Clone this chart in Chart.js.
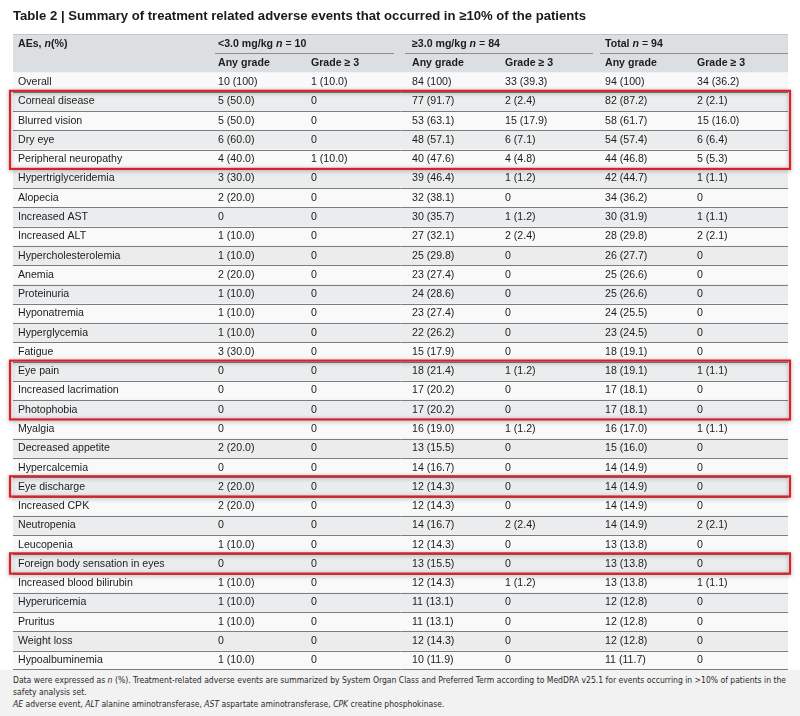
<!DOCTYPE html>
<html lang="en">
<head>
<meta charset="UTF-8">
<title>Table 2 - Treatment related adverse events</title>
<script src="https://cdn.jsdelivr.net/npm/chart.js"></script>
<style>
    body { margin: 0; background: #fff; }
    .page { position: relative; width: 800px; height: 716px; overflow: hidden; }
    .chart-box { position: absolute; left: 0; top: 0; width: 800px; height: 670px; }
    .foot {
        position: absolute; left: 0; top: 670px; width: 800px; height: 46px;
        background: #f2f2f2; box-sizing: border-box; padding: 4px 0 0 13px;
        font-family: "Liberation Sans Narrow", "DejaVu Sans Condensed", "Liberation Sans", sans-serif;
        font-size: 9px; line-height: 12px; color: #2a2a2a;
    }
    .foot-inner { transform-origin: 0 0; white-space: nowrap; }
    .foot-line { display: inline-block; }
</style>
</head>
<body>
<div class="page">
    <div class="chart-box"><canvas id="aeTable"></canvas></div>
    <div class="foot">
        <div class="foot-inner" id="footInner">
            <span class="foot-line" id="footFirst">Data were expressed as <i>n</i> (%). Treatment-related adverse events are summarized by System Organ Class and Preferred Term according to MedDRA v25.1 for events occurring in &gt;10% of patients in the</span><br>
            <span class="foot-line">safety analysis set.</span><br>
            <span class="foot-line"><i>AE</i> adverse event, <i>ALT</i> alanine aminotransferase, <i>AST</i> aspartate aminotransferase, <i>CPK</i> creatine phosphokinase.</span>
        </div>
    </div>
</div>

<script>
    const titleText = 'Table 2 | Summary of treatment related adverse events that occurred in \u226510% of the patients';

    const groupLabels = ['<3.0 mg/kg', '\u22653.0 mg/kg', 'Total'];
    const groupN = [10, 84, 94];
    const subHeaders = ['Any grade', 'Grade \u2265 3'];

    const aeNames = [
        'Overall', 'Corneal disease', 'Blurred vision', 'Dry eye', 'Peripheral neuropathy',
        'Hypertriglyceridemia', 'Alopecia', 'Increased AST', 'Increased ALT', 'Hypercholesterolemia',
        'Anemia', 'Proteinuria', 'Hyponatremia', 'Hyperglycemia', 'Fatigue',
        'Eye pain', 'Increased lacrimation', 'Photophobia', 'Myalgia', 'Decreased appetite',
        'Hypercalcemia', 'Eye discharge', 'Increased CPK', 'Neutropenia', 'Leucopenia',
        'Foreign body sensation in eyes', 'Increased blood bilirubin', 'Hyperuricemia', 'Pruritus', 'Weight loss',
        'Hypoalbuminemia'
    ];
    const lowAny = [
        '10 (100)', '5 (50.0)', '5 (50.0)', '6 (60.0)', '4 (40.0)',
        '3 (30.0)', '2 (20.0)', '0', '1 (10.0)', '1 (10.0)',
        '2 (20.0)', '1 (10.0)', '1 (10.0)', '1 (10.0)', '3 (30.0)',
        '0', '0', '0', '0', '2 (20.0)',
        '0', '2 (20.0)', '2 (20.0)', '0', '1 (10.0)',
        '0', '1 (10.0)', '1 (10.0)', '1 (10.0)', '0',
        '1 (10.0)'
    ];
    const lowG3 = [
        '1 (10.0)', '0', '0', '0', '1 (10.0)',
        '0', '0', '0', '0', '0',
        '0', '0', '0', '0', '0',
        '0', '0', '0', '0', '0',
        '0', '0', '0', '0', '0',
        '0', '0', '0', '0', '0',
        '0'
    ];
    const highAny = [
        '84 (100)', '77 (91.7)', '53 (63.1)', '48 (57.1)', '40 (47.6)',
        '39 (46.4)', '32 (38.1)', '30 (35.7)', '27 (32.1)', '25 (29.8)',
        '23 (27.4)', '24 (28.6)', '23 (27.4)', '22 (26.2)', '15 (17.9)',
        '18 (21.4)', '17 (20.2)', '17 (20.2)', '16 (19.0)', '13 (15.5)',
        '14 (16.7)', '12 (14.3)', '12 (14.3)', '14 (16.7)', '12 (14.3)',
        '13 (15.5)', '12 (14.3)', '11 (13.1)', '11 (13.1)', '12 (14.3)',
        '10 (11.9)'
    ];
    const highG3 = [
        '33 (39.3)', '2 (2.4)', '15 (17.9)', '6 (7.1)', '4 (4.8)',
        '1 (1.2)', '0', '1 (1.2)', '2 (2.4)', '0',
        '0', '0', '0', '0', '0',
        '1 (1.2)', '0', '0', '1 (1.2)', '0',
        '0', '0', '0', '2 (2.4)', '0',
        '0', '1 (1.2)', '0', '0', '0',
        '0'
    ];
    const totalAny = [
        '94 (100)', '82 (87.2)', '58 (61.7)', '54 (57.4)', '44 (46.8)',
        '42 (44.7)', '34 (36.2)', '30 (31.9)', '28 (29.8)', '26 (27.7)',
        '25 (26.6)', '25 (26.6)', '24 (25.5)', '23 (24.5)', '18 (19.1)',
        '18 (19.1)', '17 (18.1)', '17 (18.1)', '16 (17.0)', '15 (16.0)',
        '14 (14.9)', '14 (14.9)', '14 (14.9)', '14 (14.9)', '13 (13.8)',
        '13 (13.8)', '13 (13.8)', '12 (12.8)', '12 (12.8)', '12 (12.8)',
        '11 (11.7)'
    ];
    const totalG3 = [
        '34 (36.2)', '2 (2.1)', '15 (16.0)', '6 (6.4)', '5 (5.3)',
        '1 (1.1)', '0', '1 (1.1)', '2 (2.1)', '0',
        '0', '0', '0', '0', '0',
        '1 (1.1)', '0', '0', '1 (1.1)', '0',
        '0', '0', '0', '2 (2.1)', '0',
        '0', '1 (1.1)', '0', '0', '0',
        '0'
    ];

    // rows framed in red in the original
    const highlightGroups = [
        ['Corneal disease', 'Peripheral neuropathy'],
        ['Eye pain', 'Photophobia'],
        ['Eye discharge', 'Eye discharge'],
        ['Foreign body sensation in eyes', 'Foreign body sensation in eyes']
    ];

    // layout (x scale runs over the table width in px)
    const TABLE_W = 775;
    const colX = [5, 205, 298, 399, 492, 592, 684];
    const groupLines = [[202, 381], [392, 580], [587, 775]];
    const HEADER_ROWS = 2;
    const FONT = '"Liberation Sans", Arial, Helvetica, sans-serif';
    const TEXT_SIZE = 10.6;
    const HEADER_BG = '#dcdfe2';
    const ROW_BG = '#f9f9f9';
    const ROW_ALT_BG = '#eaeced';
    const LINE_COLOR = '#7d7d7d';
    const RED = '#d8232a';

    const rowLabels = ['header-group', 'header-grade'].concat(aeNames);
    const columns = [aeNames, lowAny, lowG3, highAny, highG3, totalAny, totalG3];

    function fitSize(text, weight, target) {
        const c = document.createElement('canvas').getContext('2d');
        c.font = `${weight} 100px ${FONT}`;
        return 100 * target / c.measureText(text).width;
    }
    const titleSize = fitSize(titleText, 'bold', 574);

    function drawRich(ctx, parts, x, y) {
        parts.forEach(p => {
            ctx.font = `${p.s} ${TEXT_SIZE}px ${FONT}`;
            ctx.fillText(p.t, x, y);
            x += ctx.measureText(p.t).width;
        });
    }

    const tablePlugin = {
        id: 'tableCells',
        afterDatasetsDraw(chart) {
            const { ctx, scales: { x, y } } = chart;
            const edge = v => y.getPixelForValue(v);
            const top = i => Math.min(edge(i - 0.5), edge(i + 0.5));
            const bottom = i => Math.max(edge(i - 0.5), edge(i + 0.5));
            const left = x.getPixelForValue(0);
            const right = x.getPixelForValue(TABLE_W);

            ctx.save();

            // header top edge
            ctx.strokeStyle = '#c2c6c9';
            ctx.lineWidth = 1;
            ctx.beginPath();
            ctx.moveTo(left, top(0) + 0.5);
            ctx.lineTo(right, top(0) + 0.5);
            ctx.stroke();

            // group underlines in header
            ctx.strokeStyle = '#8c8f92';
            ctx.lineWidth = 1;
            groupLines.forEach(([a, b]) => {
                const yy = Math.round(bottom(0)) + 0.5;
                ctx.beginPath();
                ctx.moveTo(x.getPixelForValue(a), yy);
                ctx.lineTo(x.getPixelForValue(b), yy);
                ctx.stroke();
            });

            // row separators
            ctx.strokeStyle = LINE_COLOR;
            ctx.lineWidth = 1;
            for (let i = HEADER_ROWS + 1; i < rowLabels.length; i++) {
                const yy = Math.round(top(i)) + 0.5;
                ctx.beginPath();
                ctx.moveTo(left, yy);
                ctx.lineTo(right, yy);
                ctx.stroke();
            }
            const lastY = Math.round(bottom(rowLabels.length - 1)) - 0.5;
            ctx.beginPath();
            ctx.moveTo(left, lastY);
            ctx.lineTo(right, lastY);
            ctx.stroke();

            // text
            ctx.fillStyle = '#1c1c1c';
            ctx.textBaseline = 'middle';
            ctx.textAlign = 'left';
            const hy0 = y.getPixelForValue(0);
            const hy1 = y.getPixelForValue(1);
            drawRich(ctx, [{ t: 'AEs, ', s: 'bold' }, { t: 'n', s: 'italic bold' }, { t: '(%)', s: 'bold' }],
                x.getPixelForValue(colX[0]), hy0);
            groupLabels.forEach((g, k) => {
                drawRich(ctx, [
                    { t: g + ' ', s: 'bold' }, { t: 'n', s: 'italic bold' },
                    { t: ' = ', s: 'normal' }, { t: String(groupN[k]), s: 'bold' }
                ], x.getPixelForValue(colX[1 + 2 * k]), hy0);
                subHeaders.forEach((h, j) => {
                    drawRich(ctx, [{ t: h, s: 'bold' }], x.getPixelForValue(colX[1 + 2 * k + j]), hy1);
                });
            });

            ctx.font = `normal ${TEXT_SIZE}px ${FONT}`;
            aeNames.forEach((name, r) => {
                const yy = y.getPixelForValue(r + HEADER_ROWS);
                columns.forEach((col, c) => {
                    ctx.fillText(col[r], x.getPixelForValue(colX[c]), yy);
                });
            });

            // red frames
            ctx.strokeStyle = RED;
            ctx.lineWidth = 2.2;
            ctx.shadowColor = 'rgba(0,0,0,0.35)';
            ctx.shadowBlur = 4;
            ctx.shadowOffsetY = 1;
            highlightGroups.forEach(([first, last]) => {
                const a = aeNames.indexOf(first) + HEADER_ROWS;
                const b = aeNames.indexOf(last) + HEADER_ROWS;
                const y0 = top(a) - 1;
                const y1 = bottom(b);
                ctx.strokeRect(left - 3, y0, right - left + 5, y1 - y0);
            });
            ctx.restore();
        }
    };

    new Chart(document.getElementById('aeTable'), {
        type: 'bar',
        data: {
            labels: rowLabels,
            datasets: [{
                data: rowLabels.map(() => [0, TABLE_W]),
                backgroundColor: rowLabels.map((_, i) => i < HEADER_ROWS ? HEADER_BG : (i % 2 === 1 ? ROW_ALT_BG : ROW_BG)),
                barPercentage: 1,
                categoryPercentage: 1,
                borderWidth: 0
            }]
        },
        options: {
            indexAxis: 'y',
            responsive: true,
            maintainAspectRatio: false,
            animation: false,
            layout: { padding: { left: 13, right: 12, top: 0, bottom: 0 } },
            scales: {
                x: { type: 'linear', min: 0, max: TABLE_W, display: false },
                y: { display: false }
            },
            plugins: {
                legend: { display: false },
                tooltip: { enabled: false },
                title: {
                    display: true,
                    text: titleText,
                    align: 'start',
                    color: '#1a1a1a',
                    font: { family: FONT, size: titleSize, weight: 'bold' },
                    padding: { top: 16 - titleSize * 0.6, bottom: 34 - (16 - titleSize * 0.6) - titleSize * 1.2 }
                }
            }
        },
        plugins: [tablePlugin]
    });

    // squeeze the footnote to the table width
    const first = document.getElementById('footFirst');
    const scale = 773 / first.getBoundingClientRect().width;
    document.getElementById('footInner').style.transform = `scaleX(${scale})`;
</script>
</body>
</html>
